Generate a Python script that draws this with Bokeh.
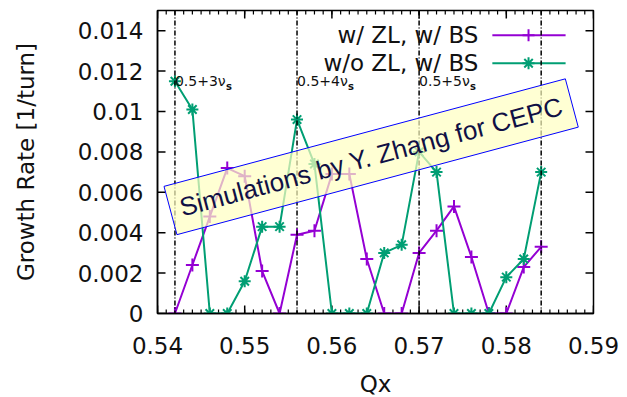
from bokeh.plotting import figure
from bokeh.models import (FixedTicker, Span, Label, CustomJSTickFormatter, Range1d)
from bokeh.embed import file_html
from bokeh.resources import INLINE

# ---------------- data ----------------
qx = [0.542, 0.544, 0.546, 0.548, 0.550, 0.552, 0.554, 0.556, 0.558, 0.560, 0.562,
      0.564, 0.566, 0.568, 0.570, 0.572, 0.574, 0.576, 0.578, 0.580, 0.582, 0.584]
growth_zl_bs = [0.0, 0.0024, 0.0048, 0.0072, 0.0068, 0.0021, 0.0, 0.0039, 0.0041, 0.0069, 0.0069,
                0.0027, 0.0, 0.0, 0.0030, 0.0041, 0.0053, 0.0028, 0.0, 0.0, 0.0023, 0.0033]
growth_nozl_bs = [0.0115, 0.0101, 0.0, 0.0, 0.0016, 0.0043, 0.0043, 0.0096, 0.0074, 0.0, 0.0,
                  0.0, 0.0030, 0.0034, 0.0080, 0.0070, 0.0, 0.0, 0.0, 0.0018, 0.0027, 0.0070]
series_names = ["w/ ZL, w/ BS", "w/o ZL, w/ BS"]

resonance_qx = [0.542, 0.556, 0.570, 0.584]
resonance_labels = ["0.5+3\u03bd", "0.5+4\u03bd", "0.5+5\u03bd", ""]

x_lo, x_hi = 0.54, 0.59
y_lo, y_hi = 0.0, 0.015
x_ticks = [0.54, 0.55, 0.56, 0.57, 0.58, 0.59]
y_ticks = [0.0, 0.002, 0.004, 0.006, 0.008, 0.010, 0.012, 0.014]
x_minor = [round(0.54 + 0.001 * i, 3) for i in range(51)]

note_text = "Simulations by Y. Zhang for CEPC"

# ---------------- style ----------------
PURPLE = "#9400d3"
GREEN = "#009e73"
FONT = "DejaVu Sans"
FS = "23px"
TXT = "#111111"
FW, FH = 436, 303

p = figure(frame_width=FW, frame_height=FH,
           x_range=Range1d(x_lo, x_hi), y_range=Range1d(y_lo, y_hi),
           output_backend="svg", toolbar_location=None,
           min_border_left=157, min_border_right=26, min_border_top=10, min_border_bottom=76)
p.xgrid.visible = False
p.ygrid.visible = False
p.outline_line_color = "black"
p.outline_line_width = 1.5
p.background_fill_color = "white"
p.border_fill_color = "white"

xfmt = CustomJSTickFormatter(code="return tick.toFixed(2);")
yfmt = CustomJSTickFormatter(code="return tick == 0 ? '0' : String(parseFloat(tick.toFixed(3)));")

def style_axis(ax):
    ax.axis_line_color = "black"
    ax.axis_line_width = 1.5
    ax.major_tick_in = 0
    ax.major_tick_out = 0
    ax.minor_tick_in = 0
    ax.minor_tick_out = 0
    ax.major_tick_line_color = None
    ax.minor_tick_line_color = None
    ax.major_label_text_font = FONT
    ax.major_label_text_font_size = FS
    ax.major_label_text_color = TXT
    ax.axis_label_text_font = FONT
    ax.axis_label_text_font_size = FS
    ax.axis_label_text_font_style = "normal"
    ax.axis_label_text_color = TXT

xa = p.xaxis[0]
xa.ticker = FixedTicker(ticks=x_ticks)
xa.formatter = xfmt
style_axis(xa)
xa.axis_label = "Qx"
xa.major_label_standoff = 23
xa.axis_label_standoff = 14

ya = p.yaxis[0]
ya.ticker = FixedTicker(ticks=y_ticks)
ya.formatter = yfmt
style_axis(ya)
ya.axis_label = "Growth Rate [1/turn]"
ya.major_label_standoff = 14
ya.axis_label_standoff = 36

# inward tick marks on all four sides (lengths in pixels converted to data units)
dy = (y_hi - y_lo) / FH
dx = (x_hi - x_lo) / FW
maj, mnr = 8, 4
p.segment(x0=x_ticks, y0=[y_lo] * len(x_ticks), x1=x_ticks, y1=[y_lo + maj * dy] * len(x_ticks),
          line_color="black", line_width=1.5)
p.segment(x0=x_ticks, y0=[y_hi] * len(x_ticks), x1=x_ticks, y1=[y_hi - maj * dy] * len(x_ticks),
          line_color="black", line_width=1.5)
p.segment(x0=x_minor, y0=[y_lo] * len(x_minor), x1=x_minor, y1=[y_lo + mnr * dy] * len(x_minor),
          line_color="black", line_width=1.2)
p.segment(x0=x_minor, y0=[y_hi] * len(x_minor), x1=x_minor, y1=[y_hi - mnr * dy] * len(x_minor),
          line_color="black", line_width=1.2)
p.segment(x0=[x_lo] * len(y_ticks), y0=y_ticks, x1=[x_lo + maj * dx] * len(y_ticks), y1=y_ticks,
          line_color="black", line_width=1.5)
p.segment(x0=[x_hi] * len(y_ticks), y0=y_ticks, x1=[x_hi - maj * dx] * len(y_ticks), y1=y_ticks,
          line_color="black", line_width=1.5)

# resonance lines
for xq, lab in zip(resonance_qx, resonance_labels):
    p.add_layout(Span(location=xq, dimension="height", line_color="black",
                      line_width=1.5, line_dash="5 2 1 2"))
    if lab:
        p.add_layout(Label(x=xq, y=0.01149, text=lab, x_offset=0,
                           text_font=FONT, text_font_size="14px",
                           text_color=TXT, text_align="left", text_baseline="middle"))
        p.add_layout(Label(x=xq, y=0.01149, text="s", x_offset=51, y_offset=-5,
                           text_font=FONT, text_font_size="10px", text_font_style="bold",
                           text_color=TXT, text_align="left", text_baseline="middle"))

# data series
p.line(qx, growth_zl_bs, line_color=PURPLE, line_width=2)
p.scatter(qx, growth_zl_bs, marker="cross", size=13, line_color=PURPLE, line_width=2)
p.line(qx, growth_nozl_bs, line_color=GREEN, line_width=2)
p.scatter(qx, growth_nozl_bs, marker="asterisk", size=12, line_color=GREEN, line_width=2)

# gnuplot-style legend (text left, sample right)
leg_text_x = 0.5768
leg_x0, leg_x1, leg_xm = 0.5784, 0.5868, 0.58255
leg_y = [0.01378, 0.01239]
for name, col, mk, ly in zip(series_names, [PURPLE, GREEN], ["cross", "asterisk"], leg_y):
    p.add_layout(Label(x=leg_text_x, y=ly, text=name, text_font=FONT,
                       text_font_size=FS, text_color=TXT, text_align="right",
                       text_baseline="middle"))
    p.segment(x0=[leg_x0], y0=[ly], x1=[leg_x1], y1=[ly], line_color=col, line_width=2)
    p.scatter([leg_xm], [ly], marker=mk, size=12, line_color=col, line_width=2)

# rotated note box
p.add_layout(Label(x=0.5645, y=0.00776, text=note_text, angle=15, angle_units="deg",
                   text_font="Liberation Sans", text_font_size="26px",
                   text_color="#101045", text_align="center", text_baseline="middle",
                   background_fill_color="#ffffc0", background_fill_alpha=0.7,
                   border_line_color="blue", border_line_width=1, padding=10))

open("out.html", "w").write(file_html(p, INLINE))
